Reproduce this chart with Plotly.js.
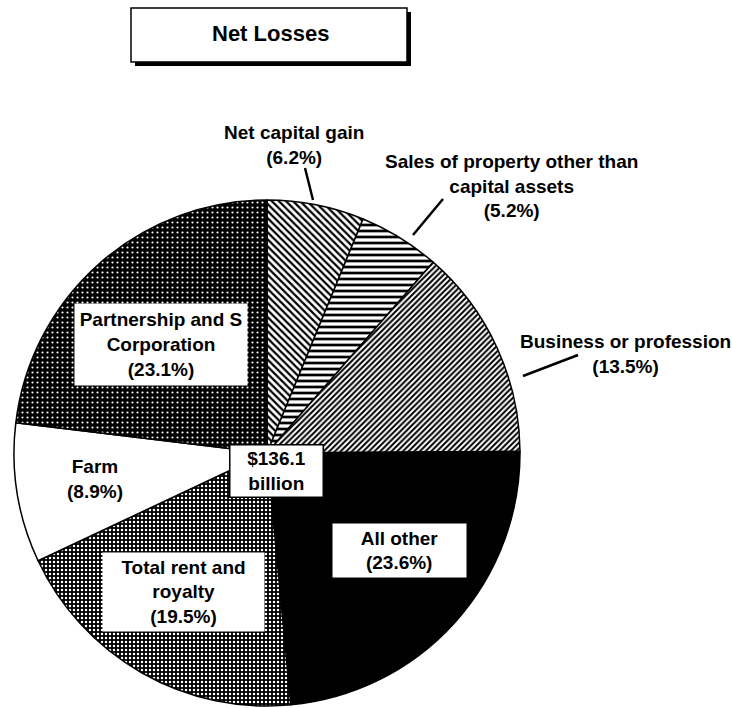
<!DOCTYPE html>
<html>
<head>
<meta charset="utf-8">
<script src="https://cdn.plot.ly/plotly-3.0.1.min.js"></script>
<style>html,body{margin:0;padding:0;background:#fff;overflow:hidden}#chart{width:732px;height:708px}</style>
</head>
<body>
<div id="chart"></div>
<script>
// ---- data ----
const categories = ["Net capital gain", "Sales of property other than capital assets", "Business or profession", "All other", "Total rent and royalty", "Farm", "Partnership and S Corporation"];
const shares = [6.2, 5.2, 13.5, 23.6, 19.5, 8.9, 23.1];
const labelText = ["Net capital gain", "Sales of property other than<br>capital assets", "Business or profession", "All other", "Total rent and<br>royalty", "Farm", "Partnership and S<br>Corporation"];
const totalLabel = "$136.1<br>billion";
const chartTitle = "Net Losses";

// ---- styling ----
const W = 732, H = 708;
const px = x => x / W, py = y => 1 - y / H;
const cx = 267, cy = 453, R = 253;

const patterns = [
  {shape: "\\", fgcolor: "#000", bgcolor: "#fff", size: 5, solidity: 0.45},
  {shape: "-", fgcolor: "#000", bgcolor: "#fff", size: 6, solidity: 0.45},
  {shape: "/", fgcolor: "#000", bgcolor: "#fff", size: 4, solidity: 0.5},
  {shape: "", bgcolor: "#000"},
  {shape: ".", fgcolor: "#fff", bgcolor: "#000", size: 4, solidity: 0.3},
  {shape: "", bgcolor: "#fff"},
  {shape: ".", fgcolor: "#fff", bgcolor: "#000", size: 5, solidity: 0.15}
];
const colors = ["#fff", "#fff", "#fff", "#000", "#000", "#fff", "#000"];

const trace = {
  type: "pie",
  labels: categories,
  values: shares,
  sort: false,
  direction: "clockwise",
  rotation: 0,
  textinfo: "none",
  hoverinfo: "label+percent",
  marker: {
    colors: colors,
    line: {color: "#000", width: 1.5},
    pattern: {
      shape: patterns.map(p => p.shape),
      fgcolor: patterns.map(p => p.fgcolor || "#000"),
      bgcolor: patterns.map(p => p.bgcolor),
      size: patterns.map(p => p.size || 6),
      solidity: patterns.map(p => p.solidity || 0.3),
      fillmode: "replace"
    }
  },
  domain: {x: [px(cx - R), px(cx + R)], y: [py(cy + R), py(cy - R)]},
  showlegend: false
};

const font = {family: "Liberation Sans, Arial, sans-serif", size: 19, color: "#000", weight: 700};
const lab = (i) => labelText[i] + "<br>(" + shares[i].toFixed(1) + "%)";

// label placement: [x, y, boxW, boxH] in pixels (boxW 0 = no box)
const place = [
  [294, 145, 0, 0],
  [511, 186, 0, 0],
  [625, 354, 0, 0],
  [399, 550, 133, 53],
  [183, 592, 161, 78],
  [95, 479, 0, 0],
  [161, 344, 172, 81]
];

const annotations = place.map((p, i) => {
  const a = {
    xref: "paper", yref: "paper", x: px(p[0]), y: py(p[1]),
    xanchor: "center", yanchor: "middle", showarrow: false,
    text: lab(i), font: font, align: "center"
  };
  if (p[2]) {
    a.bgcolor = "#fff";
    a.width = p[2];
    a.height = p[3];
    a.borderpad = 0;
  }
  return a;
});
annotations.push({
  xref: "paper", yref: "paper", x: px(276.5), y: py(471), xanchor: "center", yanchor: "middle",
  showarrow: false, text: totalLabel, font: font, bgcolor: "#fff",
  bordercolor: "#000", borderwidth: 1.5, width: 92, height: 51, borderpad: 0
});
annotations.push({
  xref: "paper", yref: "paper", x: px(270), y: py(34), xanchor: "center", yanchor: "middle",
  showarrow: false, text: chartTitle, font: Object.assign({}, font, {size: 22})
});

const shapes = [
  // title box shadow and frame
  {type: "rect", xref: "paper", yref: "paper", x0: px(135), x1: px(411), y0: py(66), y1: py(12), fillcolor: "#000", line: {width: 0}},
  {type: "rect", xref: "paper", yref: "paper", x0: px(131), x1: px(407), y0: py(62), y1: py(8), fillcolor: "#fff", line: {color: "#000", width: 1.5}},
  // leader lines
  {type: "line", xref: "paper", yref: "paper", x0: px(305), y0: py(168), x1: px(313), y1: py(200), line: {color: "#000", width: 2.5}},
  {type: "line", xref: "paper", yref: "paper", x0: px(443), y0: py(199), x1: px(413), y1: py(235), line: {color: "#000", width: 2.5}},
  {type: "line", xref: "paper", yref: "paper", x0: px(578), y0: py(355), x1: px(523), y1: py(376), line: {color: "#000", width: 2.5}}
];

const layout = {
  width: W, height: H,
  margin: {l: 0, r: 0, t: 0, b: 0, pad: 0},
  paper_bgcolor: "#fff",
  plot_bgcolor: "#fff",
  annotations: annotations,
  shapes: shapes,
  showlegend: false
};

Plotly.newPlot("chart", [trace], layout, {displayModeBar: false, staticPlot: true});
</script>
</body>
</html>
